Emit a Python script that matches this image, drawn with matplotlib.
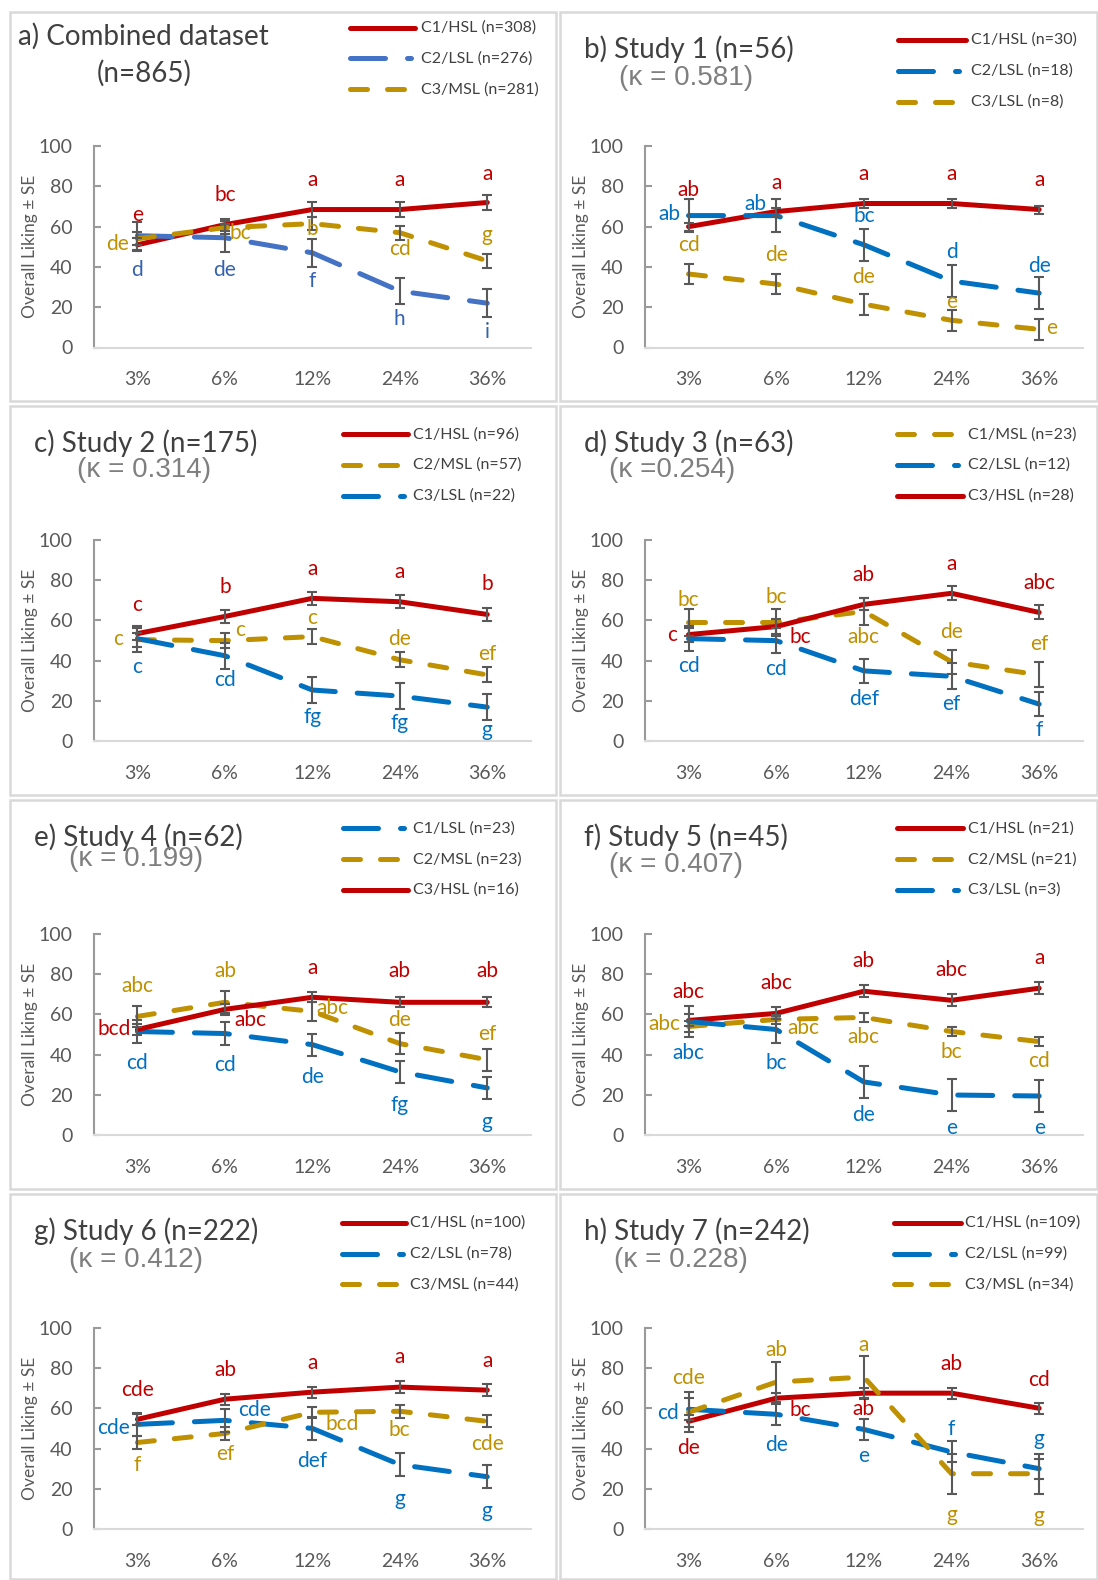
import matplotlib
matplotlib.use("Agg")
import matplotlib.pyplot as plt
from matplotlib.lines import Line2D
from matplotlib.patches import Rectangle

W, H = 1098, 1580
levels = ["3%", "6%", "12%", "24%", "36%"]

# a) combined dataset
a_c1 = [51, 61, 68.5, 68.5, 72]
a_c1_se = [3.2, 3, 3.6, 3.5, 3.6]
a_c1_sig = ["e", "bc", "a", "a", "a"]
a_c2 = [55.5, 54.5, 47, 28, 22]
a_c2_se = [7, 7, 7, 6.6, 6.8]
a_c2_sig = ["d", "de", "f", "h", "i"]
a_c3 = [54, 59.5, 61.5, 57, 43]
a_c3_se = [3.3, 3.3, 3.3, 3.4, 3.4]
a_c3_sig = ["de", "bc", "b", "cd", "g"]

# b) study 1
b_c1 = [60, 67.5, 71.5, 71.5, 68.5]
b_c1_se = [2, 2, 2, 2, 2]
b_c1_sig = ["ab", "a", "a", "a", "a"]
b_c2 = [65.5, 65.5, 51, 33, 27]
b_c2_se = [8, 8, 8, 8, 8]
b_c2_sig = ["ab", "ab", "bc", "d", "de"]
b_c3 = [36.5, 31.5, 21.5, 13.5, 9]
b_c3_se = [5.2, 5, 5.2, 5.2, 5.2]
b_c3_sig = ["cd", "de", "de", "e", "e"]

# c) study 2
c_c1 = [53.5, 62, 71, 69.3, 63]
c_c1_se = [3, 3.1, 3.2, 3.2, 3.2]
c_c1_sig = ["c", "b", "a", "a", "b"]
c_c2 = [50.5, 50, 52, 40.5, 33]
c_c2_se = [3.5, 3.7, 3.7, 3.7, 3.7]
c_c2_sig = ["c", "c", "c", "de", "ef"]
c_c3 = [51, 42.5, 25.5, 22.5, 17]
c_c3_se = [6.5, 6.5, 6.5, 6.5, 6.5]
c_c3_sig = ["c", "cd", "fg", "fg", "g"]

# d) study 3
d_c1 = [59, 59, 64.5, 39.5, 33]
d_c1_se = [6.5, 6.5, 6.6, 6, 6.2]
d_c1_sig = ["bc", "bc", "abc", "de", "ef"]
d_c2 = [51, 50, 35, 32.3, 18.5]
d_c2_se = [6.3, 6.3, 6.1, 6.5, 6]
d_c2_sig = ["cd", "cd", "def", "ef", "f"]
d_c3 = [53, 57, 68, 73.5, 64]
d_c3_se = [3.5, 3.5, 3, 3.4, 3.5]
d_c3_sig = ["c", "bc", "ab", "a", "abc"]

# e) study 4
e_c1 = [51.5, 50.5, 45, 31.5, 23.5]
e_c1_se = [5.5, 5.5, 5.5, 5.4, 5.4]
e_c1_sig = ["cd", "cd", "de", "fg", "g"]
e_c2 = [59, 66, 61.5, 45.5, 37.5]
e_c2_se = [5.3, 5.5, 4.8, 5.4, 5.4]
e_c2_sig = ["abc", "ab", "abc", "de", "ef"]
e_c3 = [52.5, 62.5, 68.5, 66, 66]
e_c3_se = [2.8, 2.8, 2.5, 2.5, 2.5]
e_c3_sig = ["bcd", "abc", "a", "ab", "ab"]

# f) study 5
f_c1 = [57, 60.5, 71.5, 67, 73]
f_c1_se = [3, 3, 3, 3, 3]
f_c1_sig = ["abc", "abc", "ab", "abc", "a"]
f_c2 = [54, 57.5, 58.5, 51.5, 46.5]
f_c2_se = [2.5, 2.3, 2.3, 2.3, 2.3]
f_c2_sig = ["abc", "abc", "abc", "bc", "cd"]
f_c3 = [56.5, 52.5, 26.5, 20, 19.5]
f_c3_se = [7.8, 6.6, 8, 8, 8]
f_c3_sig = ["abc", "bc", "de", "e", "e"]

# g) study 6
g_c1 = [54.5, 64.5, 68, 70.5, 69]
g_c1_se = [2.7, 2.8, 2.8, 2.8, 2.8]
g_c1_sig = ["cde", "ab", "a", "a", "a"]
g_c2 = [52, 54, 50, 32, 26]
g_c2_se = [5.6, 5.6, 5.6, 5.6, 5.7]
g_c2_sig = ["cde", "cde", "def", "g", "g"]
g_c3 = [43, 47.5, 58, 58.5, 53.5]
g_c3_se = [3.3, 3.3, 2.7, 3.2, 3]
g_c3_sig = ["f", "ef", "bcd", "bc", "cde"]

# h) study 7
h_c1 = [53.5, 65, 67.5, 67.5, 60]
h_c1_se = [3, 2.7, 2.7, 2.7, 2.7]
h_c1_sig = ["de", "bc", "ab", "ab", "cd"]
h_c2 = [59.5, 57, 49.5, 38.3, 30]
h_c2_se = [5.5, 5.5, 5.4, 5.2, 5]
h_c2_sig = ["cd", "de", "e", "f", "g"]
h_c3 = [58, 73, 75.5, 27.5, 27.5]
h_c3_se = [10, 10, 10.3, 10, 10]
h_c3_sig = ["cde", "ab", "a", "g", "g"]

# where each letter goes: (shift along x in categories, height in y units)
a_pos = [[(0, 66), (0, 75.5), (0, 83), (0, 83), (0, 86)],
         [(0, 38.5), (0, 38.5), (0, 33), (0, 14), (0, 7.5)],
         [(-0.23, 51.4), (0.18, 57), (0, 59), (0, 49), (0, 56)]]
b_pos = [[(0, 78.3), (0, 81.6), (0, 86), (0, 86), (0, 83)],
         [(-0.22, 66.3), (-0.24, 71.3), (0, 65.5), (0, 47.3), (0, 40.3)],
         [(0, 51), (0, 46), (0, 34.8), (0, 22.4), (0.14, 9.5)]]
c_pos = [[(0, 67.7), (0, 76.8), (0, 85.7), (0, 84.2), (0, 77.9)],
         [(-0.22, 51), (0.17, 55.4), (0, 61), (0, 50.6), (0, 43.4)],
         [(0, 36.8), (0, 30.7), (0, 12.1), (0, 9.1), (0, 5.8)]]
d_pos = [[(0, 70.1), (0, 71.8), (0, 51.7), (0, 54.2), (0, 48.1)],
         [(0, 37.3), (0, 36), (0, 21.2), (0, 18.6), (0, 5.8)],
         [(-0.19, 52.6), (0.28, 51.9), (0, 82.6), (0, 87.9), (0, 78.8)]]
e_pos = [[(0, 35.7), (0, 34.8), (0, 28.7), (0, 14.9), (0, 6.6)],
         [(0, 74), (0, 81.6), (0.23, 63), (0, 57.2), (0, 50.1)],
         [(-0.27, 53), (0.29, 57.2), (0, 83.2), (0, 81.3), (0, 81.3)]]
f_pos = [[(0, 71.3), (0, 75.5), (0, 86.7), (0, 82.1), (0, 87.9)],
         [(-0.28, 55), (0.31, 53.4), (0, 48.6), (0, 41.5), (0, 36.8)],
         [(0, 40.6), (0, 35.7), (0, 10.3), (0, 3.6), (0, 3.6)]]
g_pos = [[(0, 69), (0, 79.2), (0, 82.5), (0, 85.4), (0, 83.7)],
         [(-0.27, 50.4), (0.34, 59), (0, 33.8), (0, 15), (0, 8.8)],
         [(0, 31.6), (0, 37.1), (0.34, 52.1), (0, 49.3), (0, 42.4)]]
h_pos = [[(0, 40.4), (0.27, 59.2), (0, 59.6), (0, 82), (0, 74)],
         [(-0.23, 57.7), (0, 41.8), (0, 36.3), (0, 49.6), (0, 44.6)],
         [(0, 75), (0, 89), (0, 91.2), (0, 7.2), (0, 6.3)]]

panels = [
    dict(title="a) Combined dataset", sub="(n=865)", pos=a_pos,
         series=[("C1/HSL (n=308)", "HSL", a_c1, a_c1_se, a_c1_sig),
                 ("C2/LSL (n=276)", "LSL", a_c2, a_c2_se, a_c2_sig),
                 ("C3/MSL (n=281)", "MSL", a_c3, a_c3_se, a_c3_sig)]),
    dict(title="b) Study 1 (n=56)", sub="(\u03ba = 0.581)", pos=b_pos,
         series=[("C1/HSL (n=30)", "HSL", b_c1, b_c1_se, b_c1_sig),
                 ("C2/LSL (n=18)", "LSL", b_c2, b_c2_se, b_c2_sig),
                 ("C3/LSL (n=8)", "MSL", b_c3, b_c3_se, b_c3_sig)]),
    dict(title="c) Study 2 (n=175)", sub="(\u03ba = 0.314)", pos=c_pos,
         series=[("C1/HSL (n=96)", "HSL", c_c1, c_c1_se, c_c1_sig),
                 ("C2/MSL (n=57)", "MSL", c_c2, c_c2_se, c_c2_sig),
                 ("C3/LSL (n=22)", "LSL", c_c3, c_c3_se, c_c3_sig)]),
    dict(title="d) Study 3 (n=63)", sub="(\u03ba =0.254)", pos=d_pos,
         series=[("C1/MSL (n=23)", "MSL", d_c1, d_c1_se, d_c1_sig),
                 ("C2/LSL (n=12)", "LSL", d_c2, d_c2_se, d_c2_sig),
                 ("C3/HSL (n=28)", "HSL", d_c3, d_c3_se, d_c3_sig)]),
    dict(title="e) Study 4 (n=62)", sub="(\u03ba = 0.199)", pos=e_pos,
         series=[("C1/LSL (n=23)", "LSL", e_c1, e_c1_se, e_c1_sig),
                 ("C2/MSL (n=23)", "MSL", e_c2, e_c2_se, e_c2_sig),
                 ("C3/HSL (n=16)", "HSL", e_c3, e_c3_se, e_c3_sig)]),
    dict(title="f) Study 5 (n=45)", sub="(\u03ba = 0.407)", pos=f_pos,
         series=[("C1/HSL (n=21)", "HSL", f_c1, f_c1_se, f_c1_sig),
                 ("C2/MSL (n=21)", "MSL", f_c2, f_c2_se, f_c2_sig),
                 ("C3/LSL (n=3)", "LSL", f_c3, f_c3_se, f_c3_sig)]),
    dict(title="g) Study 6 (n=222)", sub="(\u03ba = 0.412)", pos=g_pos,
         series=[("C1/HSL (n=100)", "HSL", g_c1, g_c1_se, g_c1_sig),
                 ("C2/LSL (n=78)", "LSL", g_c2, g_c2_se, g_c2_sig),
                 ("C3/MSL (n=44)", "MSL", g_c3, g_c3_se, g_c3_sig)]),
    dict(title="h) Study 7 (n=242)", sub="(\u03ba = 0.228)", pos=h_pos,
         series=[("C1/HSL (n=109)", "HSL", h_c1, h_c1_se, h_c1_sig),
                 ("C2/LSL (n=99)", "LSL", h_c2, h_c2_se, h_c2_sig),
                 ("C3/MSL (n=34)", "MSL", h_c3, h_c3_se, h_c3_sig)]),
]

COLORS = {"HSL": "#c00000", "MSL": "#bf9000", "LSL": "#0070c0"}
DASHES = {"HSL": None, "MSL": (3.4, 4.0), "LSL": (7.0, 4.4)}
LW = 3.6

# layout in pixels
col_x = [(93.7, 531.0), (644.7, 1083.0)]
row_y = [(146.1, 347.5), (539.9, 741.4), (933.8, 1135.3), (1327.7, 1529.1)]
frame_x = [(10, 556), (560, 1097)]
frame_y = [(12, 401), (406, 795), (800, 1189), (1194, 1579)]
title_xy = [(18, 35.8), (584, 48.8), (34.2, 443.6), (584, 443.6),
            (34.2, 837.4), (584, 837.4), (34.2, 1231.4), (584, 1231.4)]
sub_xy = [(144, 72.8), (619, 78), (77, 469.8), (609, 469.8),
          (69, 858.6), (609, 864.7), (69, 1259.6), (614, 1259.6)]
leg_x = [(350, 415, 421), (898, 966, 971), (343, 408, 413), (897, 963, 968),
         (343, 408, 413), (897, 963, 968), (341.5, 406, 410), (894, 961, 965)]
leg_y = [(27.7, 58.3, 89.3), (40, 70.7, 101.7), (434.3, 465, 496),
         (434.3, 465, 496), (828.3, 859.3, 890), (828.3, 859.3, 890),
         (1222.7, 1254, 1284.3), (1222.7, 1254, 1284.3)]

TXT = "#404040"
GREY = "#595959"

plt.rcParams["font.family"] = ["Lato", "DejaVu Sans"]

fig = plt.figure(figsize=(W / 100, H / 100), dpi=100)


def fx(x):
    return x / W


def fy(y):
    return 1 - y / H


def line_kw(kind, color):
    kw = dict(color=color, lw=LW, solid_capstyle="round", dash_capstyle="round")
    if DASHES[kind] is not None:
        kw["dashes"] = DASHES[kind]
    return kw


for k, p in enumerate(panels):
    r, c = divmod(k, 2)
    x0, x1 = col_x[c]
    ytop, ybot = row_y[r]

    fx0, fx1 = frame_x[c]
    fy0, fy1 = frame_y[r]
    fig.add_artist(Rectangle((fx(fx0), fy(fy1)), fx(fx1) - fx(fx0), fy(fy0) - fy(fy1),
                             transform=fig.transFigure, fill=False,
                             ec="#d9d9d9", lw=1.8, zorder=0))

    ax = fig.add_axes([fx(x0), fy(ybot), fx(x1) - fx(x0), fy(ytop) - fy(ybot)])
    xs = list(range(len(levels)))
    for j, (label, kind, vals, se, sig) in enumerate(p["series"]):
        color = COLORS[kind]
        tcolor = color
        if k == 0 and kind == "LSL":
            color, tcolor = "#4472c4", "#3562b0"
        ax.plot(xs, vals, zorder=3, **line_kw(kind, color))
        ax.errorbar(xs, vals, yerr=se, fmt="none", ecolor=GREY, elinewidth=1.5,
                    capsize=3.8, capthick=1.5, zorder=4)
        for i, s in enumerate(sig):
            dx, ty = p["pos"][j][i]
            ax.text(i + dx, ty, s, color=tcolor, fontsize=15, ha="center",
                    va="center", clip_on=False, zorder=5)

        # legend entry; the long-dash line is cut so it ends on a dot
        lx0, lx1, tx = leg_x[k]
        if kind == "LSL":
            lx1 = lx0 + 61
        ly = leg_y[k][j]
        fig.add_artist(Line2D([fx(lx0), fx(lx1)], [fy(ly), fy(ly)],
                              transform=fig.transFigure, **line_kw(kind, color)))
        fig.text(fx(tx), fy(ly), label, fontsize=11.5, color=TXT, ha="left", va="center")

    ax.set_xlim(-0.5, len(levels) - 0.5)
    ax.set_ylim(0, 100)
    ax.set_xticks(xs, levels)
    ax.set_yticks(range(0, 101, 20))
    for side in ("top", "right"):
        ax.spines[side].set_visible(False)
    ax.spines["left"].set_color("#9a9a9a")
    ax.spines["left"].set_linewidth(1.5)
    ax.spines["bottom"].set_color("#d9d9d9")
    ax.spines["bottom"].set_linewidth(1.5)
    ax.tick_params(axis="y", direction="in", length=5, width=1.5, color="#9a9a9a",
                   labelsize=14, labelcolor=GREY, pad=15)
    ax.tick_params(axis="x", length=0, labelsize=14, labelcolor=GREY, pad=17)
    ax.set_ylabel("Overall Liking \u00b1 SE", fontsize=12.5, color=GREY)
    ax.yaxis.set_label_coords(-0.127, 0.5)
    ax.set_facecolor("none")

    tx, ty = title_xy[k]
    fig.text(fx(tx), fy(ty), p["title"], fontsize=20, color=TXT, ha="left", va="center")
    sx, sy = sub_xy[k]
    if k == 0:
        fig.text(fx(sx), fy(sy), p["sub"], fontsize=20, color=TXT, ha="center", va="center")
    else:
        fig.text(fx(sx), fy(sy), p["sub"], fontsize=20, color="#7f7f7f", ha="left",
                 va="center", family=["Liberation Sans", "DejaVu Sans"])

fig.savefig("out.png", dpi=100)
